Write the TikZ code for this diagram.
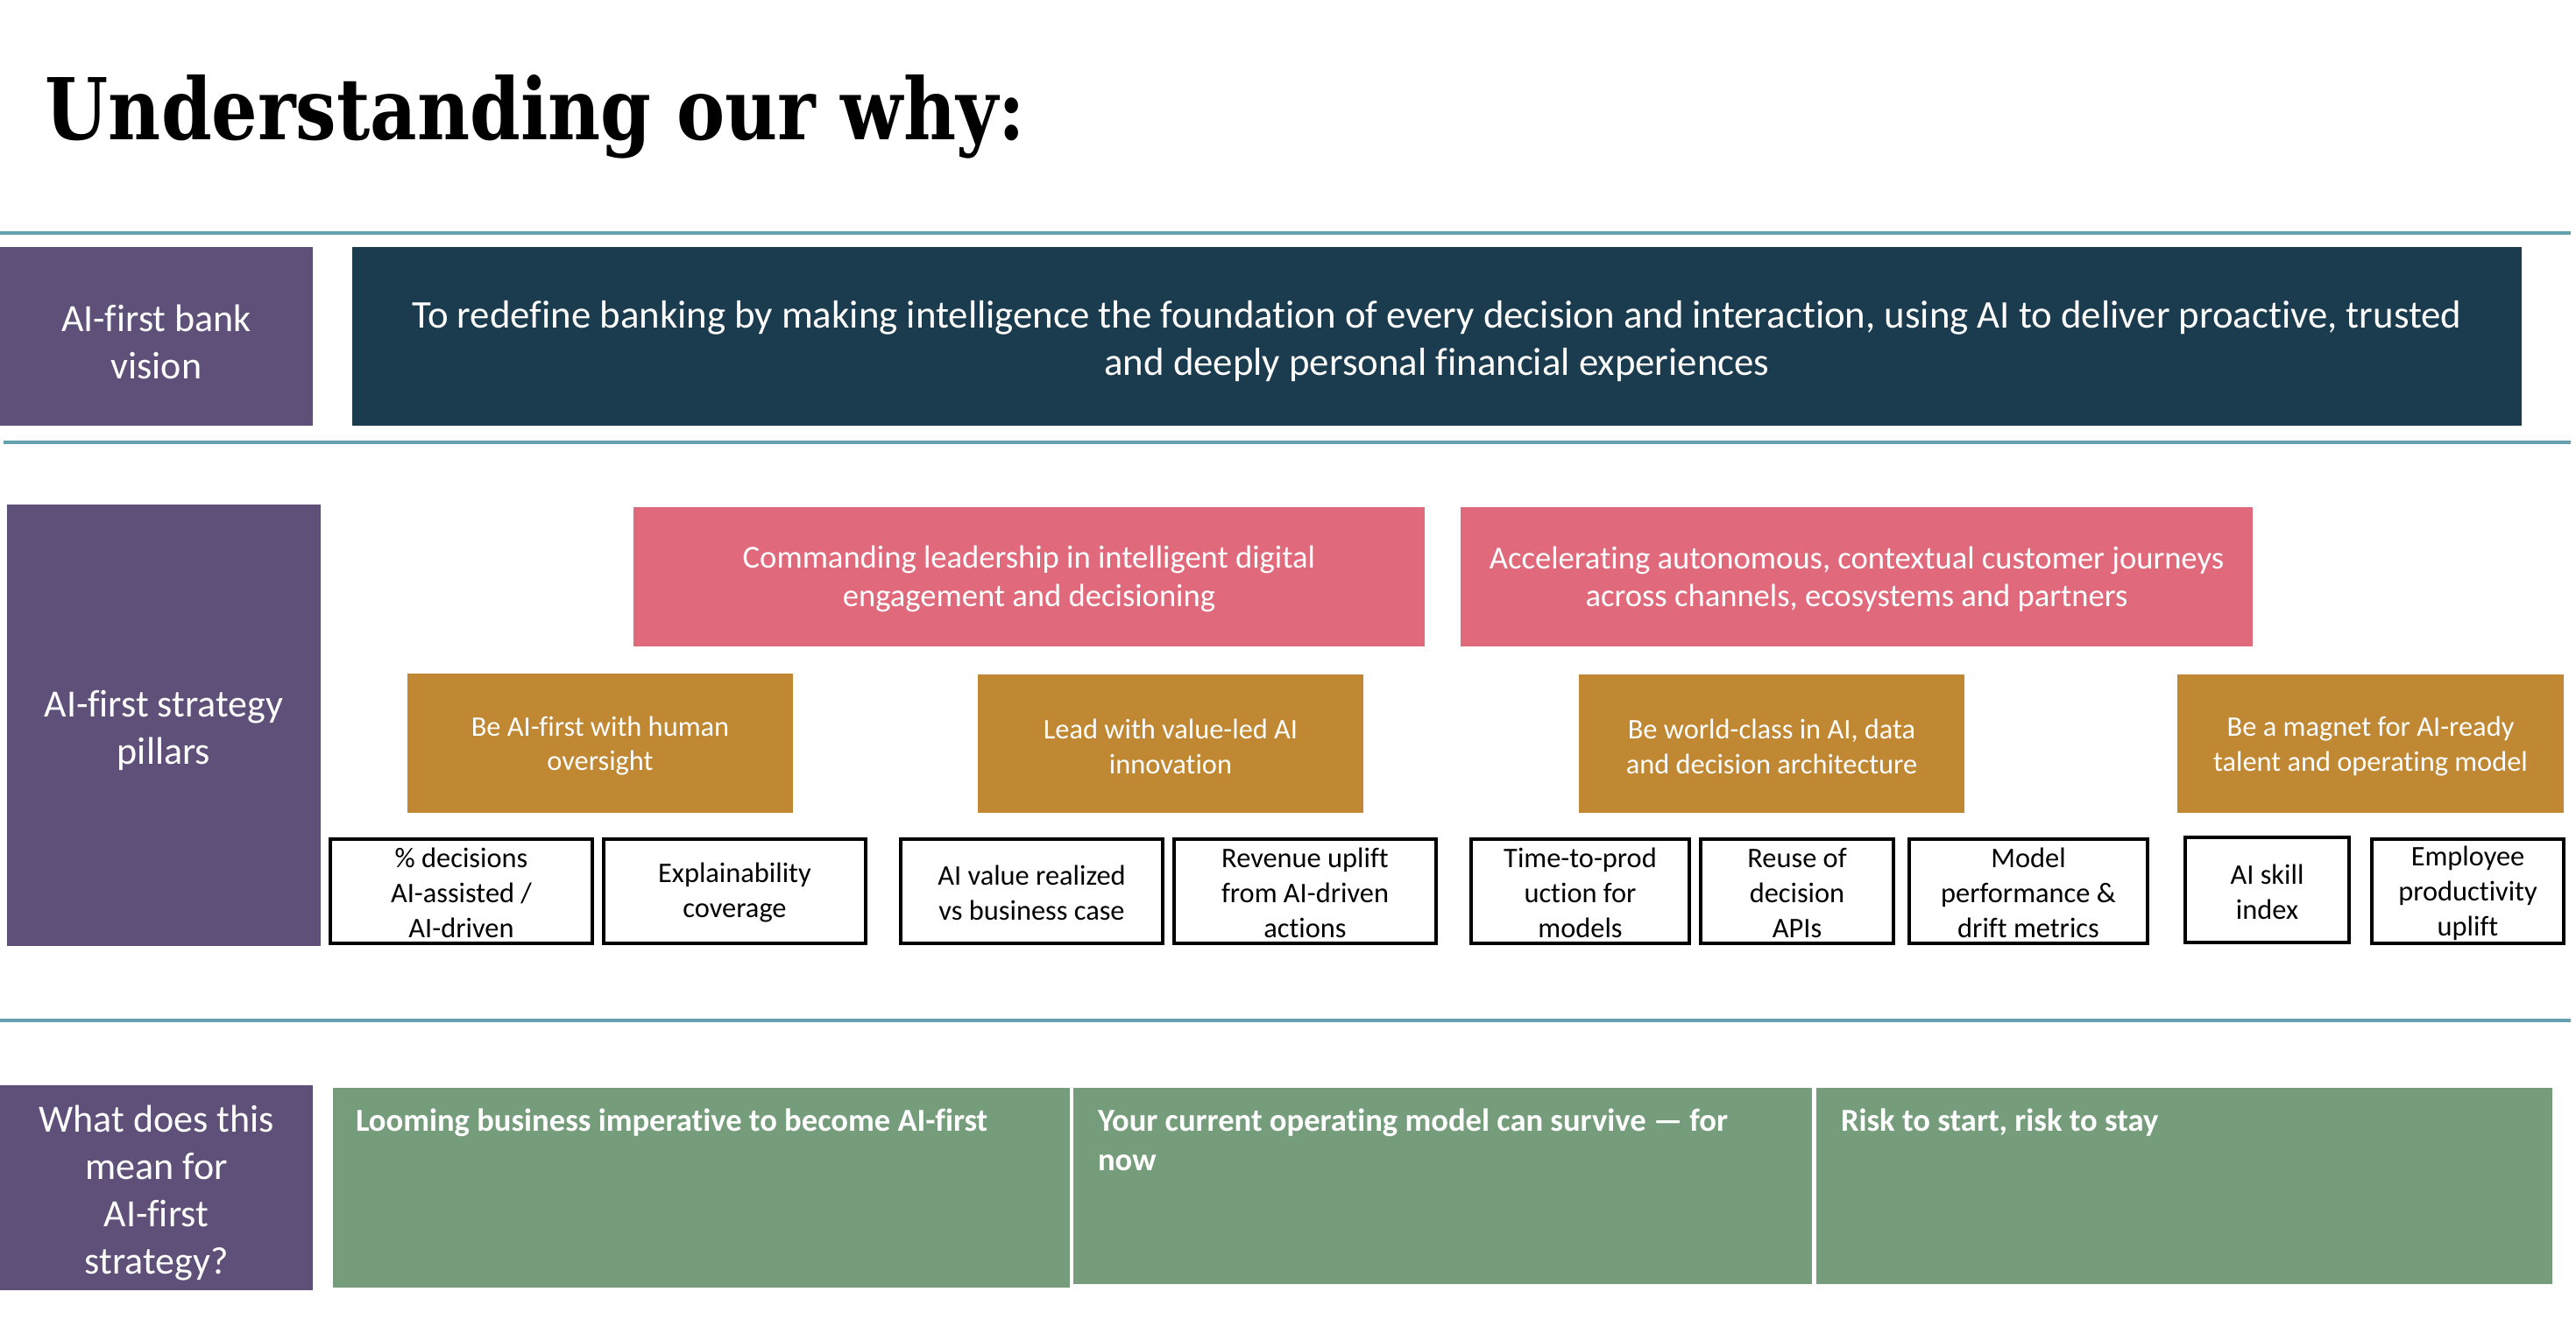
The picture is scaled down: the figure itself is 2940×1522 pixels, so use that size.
\documentclass[tikz,border=0pt]{standalone}
\usepackage{fontspec}
\setmainfont{Carlito}[Ligatures=NoCommon]
\newfontfamily\titlefont{DejaVu Serif}
\usepackage{graphicx}
\usetikzlibrary{fit}
\definecolor{vpurple}{HTML}{5F5079}
\definecolor{vnavy}{HTML}{1B3B4E}
\definecolor{vpink}{HTML}{E06A7C}
\definecolor{vgold}{HTML}{C08832}
\definecolor{vgreen}{HTML}{769D7B}
\definecolor{vline}{HTML}{64A0B0}
\tikzset{
  panel/.style={inner sep=0pt, outer sep=0pt},
  rowlabel/.style={panel, fill=vpurple},
  visionbox/.style={panel, fill=vnavy},
  themebox/.style={panel, fill=vpink},
  pillarbox/.style={panel, fill=vgold},
  metricbox/.style={panel, fill=white, draw=black, line width=0.9pt},
  impbox/.style={panel, fill=vgreen, draw=white, line width=0.4pt},
  boxtext/.style={inner sep=0pt, outer sep=0pt, align=center, text=white},
  labeltext/.style={boxtext, yshift=-1.5pt, font=\fontsize{11}{13.5}\selectfont},
  visiontext/.style={boxtext, yshift=-1.5pt, font=\fontsize{11.2}{13.5}\selectfont},
  themetext/.style={boxtext, yshift=-0.6pt, font=\fontsize{9.15}{10.8}\selectfont},
  pillartext/.style={boxtext, yshift=-0.8pt, font=\fontsize{8.1}{9.9}\selectfont},
  metrictext/.style={boxtext, yshift=-0.5pt, text=black, font=\fontsize{8.1}{10}\selectfont},
  imptext/.style={inner sep=0pt, outer sep=0pt, align=left, text=white, anchor=north west, font=\fontsize{9.15}{11.25}\selectfont\bfseries},
  sepline/.style={draw=vline, line width=0.8pt}
}
\begin{document}
\begin{tikzpicture}[x=0.25pt, y=-0.25pt]
\path[use as bounding box] (0,0) rectangle (2940,1522);

% title
\node[anchor=base west, inner sep=0pt] (title) at (51,159)
  {\resizebox{279.5pt}{18.5pt}{\titlefont\bfseries Understanding our why:}};

% separator lines
\coordinate (l1a) at (0,266);   \coordinate (l1b) at (2934,266);
\coordinate (l2a) at (4,505);   \coordinate (l2b) at (2934,505);
\coordinate (l3a) at (0,1165);  \coordinate (l3b) at (2934,1165);
\draw[sepline] (l1a) -- (l1b);
\draw[sepline] (l2a) -- (l2b);
\draw[sepline] (l3a) -- (l3b);

% vision row
\node[rowlabel, fit={(0,282)(357,486)}] (visionlabel) {};
\node[labeltext] (visionlabel-t) at (visionlabel.center) {AI-first bank\\vision};
\node[visionbox, fit={(402,282)(2878,486)}] (vision) {};
\node[visiontext] (vision-t) at (vision.center)
  {To redefine banking by making intelligence the foundation of every decision and interaction, using AI to deliver proactive, trusted\\and deeply personal financial experiences};

% strategy row
\node[rowlabel, fit={(8,576)(366,1080)}] (stratlabel) {};
\node[labeltext] (stratlabel-t) at (stratlabel.center) {AI-first strategy\\pillars};

\node[themebox, fit={(723,579)(1626,738)}] (theme1) {};
\node[themetext] (theme1-t) at (theme1.center) {Commanding leadership in intelligent digital\\engagement and decisioning};
\node[themebox, fit={(1667,579)(2571,738)}] (theme2) {};
\node[themetext] (theme2-t) at (theme2.center) {Accelerating autonomous, contextual customer journeys\\across channels, ecosystems and partners};

\node[pillarbox, fit={(465,769)(905,928)}] (p1) {};
\node[pillartext] (p1-t) at (p1.center) {Be AI-first with human\\oversight};
\node[pillarbox, fit={(1116,770)(1556,928)}] (p2) {};
\node[pillartext] (p2-t) at (p2.center) {Lead with value-led AI\\innovation};
\node[pillarbox, fit={(1802,770)(2242,928)}] (p3) {};
\node[pillartext] (p3-t) at (p3.center) {Be world-class in AI, data\\and decision architecture};
\node[pillarbox, fit={(2485,770)(2926,928)}] (p4) {};
\node[pillartext] (p4-t) at (p4.center) {Be a magnet for AI-ready\\talent and operating model};

\node[metricbox, fit={(377,958)(676,1077)}] (m1) {};
\node[metrictext] (m1-t) at (m1.center) {\% decisions\\AI-assisted /\\AI-driven};
\node[metricbox, fit={(689,958)(988,1077)}] (m2) {};
\node[metrictext] (m2-t) at (m2.center) {Explainability\\coverage};
\node[metricbox, fit={(1028,958)(1327,1077)}] (m3) {};
\node[metrictext] (m3-t) at (m3.center) {AI value realized\\vs business case};
\node[metricbox, fit={(1340,958)(1639,1077)}] (m4) {};
\node[metrictext] (m4-t) at (m4.center) {Revenue uplift\\from AI-driven\\actions};
\node[metricbox, fit={(1679,958)(1928,1077)}] (m5) {};
\node[metrictext] (m5-t) at (m5.center) {Time-to-prod\\uction for\\models};
\node[metricbox, fit={(1941,958)(2161,1077)}] (m6) {};
\node[metrictext] (m6-t) at (m6.center) {Reuse of\\decision\\APIs};
\node[metricbox, fit={(2179,958)(2451,1077)}] (m7) {};
\node[metrictext] (m7-t) at (m7.center) {Model\\performance \&\\drift metrics};
\node[metricbox, fit={(2494,956)(2681,1076)}] (m8) {};
\node[metrictext] (m8-t) at (m8.center) {AI skill\\index};
\node[metricbox, fit={(2707,958)(2926,1077)}] (m9) {};
\node[metrictext] (m9-t) at (m9.center) {Employee\\productivity\\uplift};

% implications row
\node[rowlabel, fit={(0,1239)(357,1473)}] (implabel) {};
\node[labeltext] (implabel-t) at (implabel.center) {What does this\\mean for\\AI-first\\strategy?};
\node[impbox, fit={(379,1241)(1222,1471)}] (g1) {};
\node[impbox, fit={(1224,1241)(2069,1467)}] (g2) {};
\node[impbox, fit={(2072,1241)(2914,1467)}] (g3) {};
\node[imptext] (g1t) at (406,1266) {Looming business imperative to become AI-first};
\node[imptext] (g2t) at (1253,1266) {Your current operating model can survive — for\\now};
\node[imptext] (g3t) at (2101,1266) {Risk to start, risk to stay};
\end{tikzpicture}
\end{document}
